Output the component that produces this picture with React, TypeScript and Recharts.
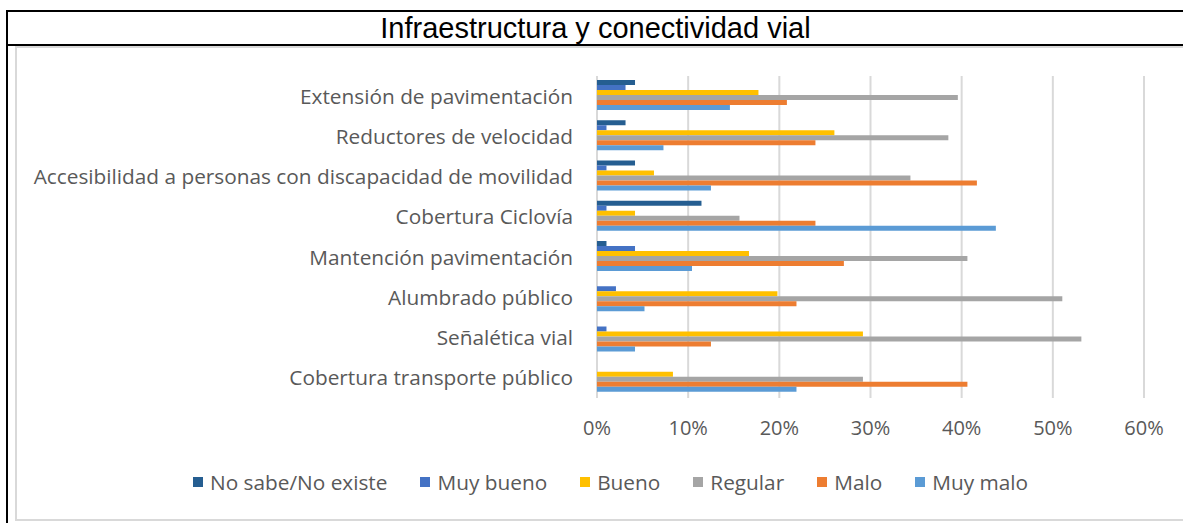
import { Bar, BarChart, CartesianGrid, Legend, XAxis, YAxis } from 'recharts';

const categories = [
  'Extensión de pavimentación',
  'Reductores de velocidad',
  'Accesibilidad a personas con discapacidad de movilidad',
  'Cobertura Ciclovía',
  'Mantención pavimentación',
  'Alumbrado público',
  'Señalética vial',
  'Cobertura transporte público',
];

// porcentajes (%)
const noSabe = [4.17, 3.13, 4.17, 11.46, 1.04, 0, 0, 0];
const muyBueno = [3.13, 1.04, 1.04, 1.04, 4.17, 2.08, 1.04, 0];
const bueno = [17.71, 26.04, 6.25, 4.17, 16.67, 19.79, 29.17, 8.33];
const regular = [39.58, 38.54, 34.38, 15.63, 40.63, 51.04, 53.13, 29.17];
const malo = [20.83, 23.96, 41.67, 23.96, 27.08, 21.88, 12.5, 40.63];
const muyMalo = [14.58, 7.29, 12.5, 43.75, 10.42, 5.21, 4.17, 21.88];

const xTicks = [0, 10, 20, 30, 40, 50, 60];

const series = [
  { key: 'noSabe', name: 'No sabe/No existe', color: '#255e91' },
  { key: 'muyBueno', name: 'Muy bueno', color: '#4472c4' },
  { key: 'bueno', name: 'Bueno', color: '#ffc000' },
  { key: 'regular', name: 'Regular', color: '#a5a5a5' },
  { key: 'malo', name: 'Malo', color: '#ed7d31' },
  { key: 'muyMalo', name: 'Muy malo', color: '#5b9bd5' },
];

const data = categories.map((name, i) => ({
  name,
  noSabe: noSabe[i],
  muyBueno: muyBueno[i],
  bueno: bueno[i],
  regular: regular[i],
  malo: malo[i],
  muyMalo: muyMalo[i],
}));

const FONT = '"Open Sans", "Noto Sans", sans-serif';
const TEXT = '#595959';

function LegendRow() {
  return (
    <div style={{ display: 'flex', justifyContent: 'flex-start', alignItems: 'center', height: 40, fontFamily: FONT, fontSize: 20.8, color: TEXT, paddingLeft: 193 }}>
      {series.map((s) => (
        <div key={s.key} style={{ display: 'flex', alignItems: 'center', marginRight: 33 }}>
          <span style={{ width: 10, height: 10, background: s.color, marginRight: 7, display: 'inline-block' }} />
          <span>{s.name}</span>
        </div>
      ))}
    </div>
  );
}

export default function App() {
  return (
    <div style={{ position: 'absolute', left: 0, top: 0, width: 1183, height: 523, background: '#fff', overflow: 'hidden' }}>
      {/* marco */}
      <div style={{ position: 'absolute', left: 6, top: 10, width: 1183, height: 2, background: '#000' }} />
      <div style={{ position: 'absolute', left: 6, top: 10, width: 2, height: 523, background: '#000' }} />
      <div style={{ position: 'absolute', left: 6, top: 44, width: 1183, height: 2, background: '#000' }} />
      <div style={{ position: 'absolute', left: 15, top: 46, width: 1200, height: 475, border: '2px solid #d9d9d9', boxSizing: 'border-box' }} />
      <div style={{ position: 'absolute', left: 8, top: 12, width: 1175, height: 32, display: 'flex', alignItems: 'center', justifyContent: 'center', fontFamily: '"Liberation Sans Narrow", "Arial Narrow", sans-serif', fontSize: 29, color: '#000' }}>
        Infraestructura y conectividad vial
      </div>
      <div style={{ position: 'absolute', left: 0, top: 0 }}>
        <BarChart
          width={1183}
          height={523}
          data={data}
          layout="vertical"
          margin={{ top: 76, right: 39, left: 0, bottom: 21 }}
          barCategoryGap={4}
          barGap={0}
        >
          <CartesianGrid horizontal={false} stroke="#d9d9d9" strokeWidth={2} />
          <XAxis
            type="number"
            domain={[0, 60]}
            ticks={xTicks}
            tickFormatter={(v) => `${v}%`}
            axisLine={false}
            tickLine={false}
            height={64}
            tickMargin={17}
            tick={{ fill: TEXT, fontSize: 20, fontFamily: FONT }}
          />
          <YAxis
            type="category"
            dataKey="name"
            width={597}
            axisLine={false}
            tickLine={false}
            tickMargin={18}
            interval={0}
            tick={{ fill: TEXT, fontSize: 20.8, fontFamily: FONT }}
          />
          <Legend verticalAlign="bottom" wrapperStyle={{ left: 0, width: 1183 }} content={() => <LegendRow />} />
          {series.map((s) => (
            <Bar key={s.key} dataKey={s.key} name={s.name} fill={s.color} isAnimationActive={false} />
          ))}
        </BarChart>
      </div>
    </div>
  );
}
